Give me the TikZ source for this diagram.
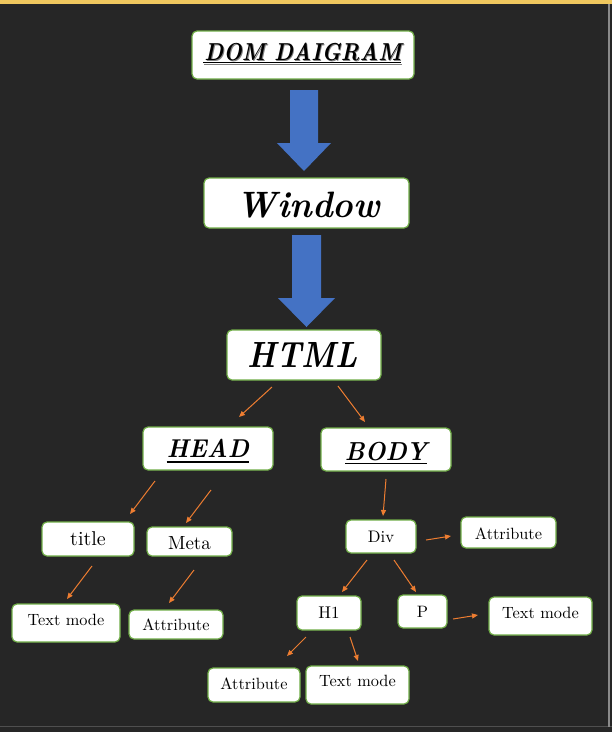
\documentclass[tikz,border=0pt]{standalone}
\usepackage{fontspec}
\newfontfamily\lmten{lmroman10-regular.otf}
\newfontfamily\lmbi{lmroman10-bolditalic.otf}
\usetikzlibrary{arrows.meta}
\definecolor{bg}{HTML}{262626}
\definecolor{topyellow}{HTML}{EFC75E}
\definecolor{framegrey}{HTML}{8A8A8A}
\definecolor{bottomgrey}{HTML}{4F4F4F}
\definecolor{boxgreen}{HTML}{70AD47}
\definecolor{connorange}{HTML}{ED7D31}
\definecolor{bigblue}{HTML}{4472C4}
\begin{document}
\begin{tikzpicture}[x=1pt,y=-1pt,
  box/.style={draw=boxgreen, line width=1.2pt, fill=white, rounded corners=5pt, inner sep=0pt, align=center, text=black},
  small/.style={font=\lmten\fontsize{16.3}{18}\selectfont},
  conn/.style={draw=connorange, line width=1pt, -{Triangle[length=6pt,width=5pt]}},
  bigarrow/.style={fill=bigblue, draw=none},
  ulline/.style={draw=black, line width=1.3pt}]
\fill[bg] (0,0) rectangle (612,732);
\useasboundingbox (0,0) rectangle (612,732);
\fill[topyellow] (0,0) rectangle (612,4);
\draw[bottomgrey, line width=1.5pt] (0,726.5) -- (612,726.5);
\draw[framegrey, line width=1.5pt] (609,4) -- (609,727);
% main nodes
\node[box, minimum width=222pt, minimum height=48pt, text height=17.4pt, text depth=6pt] (dom) at (303,55)
  {\textcolor{gray}{\rlap{\hspace*{0.8pt}\raisebox{-0.8pt}{\resizebox{197pt}{17.4pt}{\lmbi DOM DAIGRAM}}}}\resizebox{197pt}{17.4pt}{\lmbi DOM DAIGRAM}};
\draw[gray, line width=1.4pt] (204,64.3) -- (402,64.3);
\draw[ulline] (203.3,62.6) -- (401,62.6);
\node[box, minimum width=205pt, minimum height=50pt, text height=29.9pt, text depth=0pt] (window) at (306.5,203)
  {\hspace*{3.6pt}\resizebox{143pt}{25.5pt}{\lmbi Window}};
\node[box, minimum width=154pt, minimum height=50pt, text height=25pt, text depth=0pt] (html) at (304,355)
  {\resizebox{110pt}{25pt}{\lmbi HTML}\hspace*{2.6pt}};
\node[box, minimum width=130pt, minimum height=43pt, text height=18.3pt, text depth=0pt] (head) at (208,448.5)
  {\resizebox{82pt}{18.3pt}{\lmbi HEAD}};
\draw[ulline] (166.7,461.9) -- (249,461.9);
\node[box, minimum width=130pt, minimum height=43pt, text height=21.1pt, text depth=0pt] (body) at (386,449.5)
  {\resizebox{82pt}{18.3pt}{\lmbi BODY}};
\draw[ulline] (345,463.6) -- (427,463.6);
% block arrows
\fill[bigblue] (290,90) -- (318,90) -- (318,143) -- (331,143) -- (304,171) -- (277,143) -- (290,143) -- cycle;
\fill[bigblue] (292,235) -- (321,235) -- (321,298) -- (335,298) -- (306.5,327) -- (278,298) -- (292,298) -- cycle;
% small nodes
\node[box, minimum width=92pt, minimum height=34pt, font=\lmten\fontsize{20}{22}\selectfont] (title) at (88,539) {title};
\node[box, minimum width=85pt, minimum height=29pt, font=\lmten\fontsize{19}{21}\selectfont, text height=16pt, text depth=0pt] (meta) at (189.5,541.5) {Meta};
\node[box, small, minimum width=108pt, minimum height=38pt, text height=11.3pt, text depth=5.6pt] (tm1) at (66,623) {Text mode};
\node[box, small, minimum width=94pt, minimum height=29pt] (at1) at (176,624.5) {Attribute};
\node[box, minimum width=70pt, minimum height=33pt, font=\lmten\fontsize{16.7}{18}\selectfont] (div) at (381,536.5) {Div};
\node[box, small, minimum width=95pt, minimum height=31pt, text height=13.9pt, text depth=0pt] (at2) at (508.5,532.5) {Attribute};
\node[box, minimum width=64pt, minimum height=34pt, font=\lmten\fontsize{17}{19}\selectfont] (h1) at (329,613) {H1};
\node[box, minimum width=49pt, minimum height=33pt, font=\lmten\fontsize{16.5}{18}\selectfont, text depth=0pt] (p) at (422.5,611.5) {P};
\node[box, small, minimum width=103pt, minimum height=38pt, text height=11.3pt, text depth=5.6pt] (tm2) at (540.5,616) {Text mode};
\node[box, small, minimum width=92pt, minimum height=34pt, text height=11.3pt, text depth=1.6pt] (at3) at (254,685) {Attribute};
\node[box, small, minimum width=103pt, minimum height=38pt, text height=11.3pt, text depth=7.6pt] (tm3) at (357.5,685) {Text mode};
% connector end points
\coordinate (hhs) at (272,387); \coordinate (hhe) at (239,417);
\coordinate (hbs) at (338,386); \coordinate (hbe) at (365,422);
\coordinate (hts) at (155,481); \coordinate (hte) at (130,514);
\coordinate (hms) at (211,490); \coordinate (hme) at (186,523);
\coordinate (tts) at (92,566);  \coordinate (tte) at (67,599);
\coordinate (mas) at (194,570); \coordinate (mae) at (169,603);
\coordinate (bds) at (386,479); \coordinate (bde) at (383,516);
\coordinate (das) at (426,540); \coordinate (dae) at (451,536);
\coordinate (dhs) at (367,560); \coordinate (dhe) at (342,592);
\coordinate (dps) at (394,560); \coordinate (dpe) at (416,592);
\coordinate (pts) at (453,619); \coordinate (pte) at (478,615);
\coordinate (has) at (306,637); \coordinate (hae) at (287,656);
\coordinate (hts2) at (350,637); \coordinate (hte2) at (358,661);
\draw[conn] (hhs) -- (hhe);
\draw[conn] (hbs) -- (hbe);
\draw[conn] (hts) -- (hte);
\draw[conn] (hms) -- (hme);
\draw[conn] (tts) -- (tte);
\draw[conn] (mas) -- (mae);
\draw[conn] (bds) -- (bde);
\draw[conn] (das) -- (dae);
\draw[conn] (dhs) -- (dhe);
\draw[conn] (dps) -- (dpe);
\draw[conn] (pts) -- (pte);
\draw[conn] (has) -- (hae);
\draw[conn] (hts2) -- (hte2);
\end{tikzpicture}
\end{document}
